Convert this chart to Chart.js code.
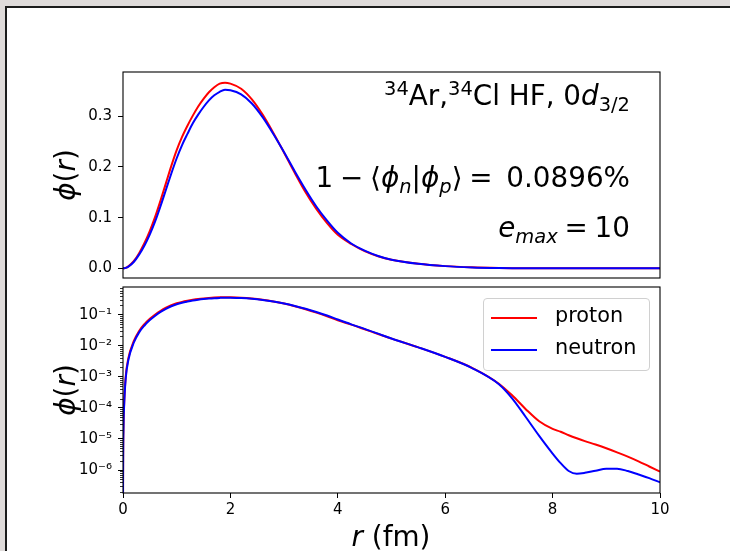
<!DOCTYPE html>
<html lang="en">
<head>
  <meta charset="UTF-8" />
  <title>Ar34 / Cl34 HF 0d3/2 radial wavefunctions</title>
  <script src="https://cdn.jsdelivr.net/npm/chart.js"></script>
  <style>
    html, body {
      margin: 0;
      width: 730px;
      height: 551px;
      overflow: hidden;
      background: #dfdbda;
      font-family: "DejaVu Sans", sans-serif;
    }

    .frame {
      position: absolute;
      left: 5px;
      top: 6px;
      width: 740px;
      height: 560px;
      background: #fff;
      border-left: 2px solid #1c1c1c;
      border-top: 2px solid #1c1c1c;
    }

    canvas {
      position: absolute;
      left: 0;
    }

    .note {
      position: absolute;
      right: 100px;
      font-size: 27.8px;
      line-height: 1;
      white-space: nowrap;
      color: #000;
    }
    .tight { word-spacing: -2px; }

    .note sup, .note sub {
      font-size: 70%;
      line-height: 0;
      vertical-align: 0;
      position: relative;
    }
    .note sup { top: -0.5em; }
    .note sub { top: 0.3em; }

    .axis-label {
      position: absolute;
      font-size: 27.8px;
      line-height: 1;
      white-space: nowrap;
      color: #000;
    }
    .ylab { transform: translate(-50%, -50%) rotate(-90deg); }
    .xlab { transform: translate(-50%, -50%); }

    .legend {
      position: absolute;
      left: 483px;
      top: 298px;
      width: 165px;
      height: 71px;
      border: 1px solid #d0d0d0;
      border-radius: 4px;
      background: rgba(255,255,255,0.8);
    }
    .legend .row {
      position: absolute;
      left: 7px;
      height: 0;
    }
    .legend .swatch {
      position: absolute;
      left: 0;
      top: -1px;
      width: 46px;
      height: 2px;
    }
    .legend .txt {
      position: absolute;
      left: 64px;
      top: -13px;
      font-size: 20.8px;
      line-height: 1;
      white-space: nowrap;
    }
  </style>
</head>
<body>
  <div class="frame"></div>
  <canvas id="topChart" width="730" height="282" style="top:0"></canvas>
  <canvas id="logChart" width="730" height="271" style="top:280px"></canvas>

  <div class="note" style="top:82px"><sup>34</sup>Ar,<sup>34</sup>Cl HF, 0<i>d</i><sub>3/2</sub></div>
  <div class="note tight" style="top:164px">1 − ⟨<i>ϕ</i><sub><i>n</i></sub>|<i>ϕ</i><sub><i>p</i></sub>⟩ = &nbsp;0.0896%</div>
  <div class="note tight" style="top:214px"><i>e</i><sub><i>max</i></sub> = 10</div>

  <div class="axis-label ylab" style="left:66px; top:175px"><i>ϕ</i>(<i>r</i>)</div>
  <div class="axis-label ylab" style="left:66px; top:390px"><i>ϕ</i>(<i>r</i>)</div>
  <div class="axis-label xlab" style="left:391px; top:537px"><i>r</i> (fm)</div>

  <div class="legend">
    <div class="row" style="top:19px">
      <div class="swatch" style="background:#ff0000"></div>
      <div class="txt">proton</div>
    </div>
    <div class="row" style="top:51px">
      <div class="swatch" style="background:#0000ff"></div>
      <div class="txt">neutron</div>
    </div>
  </div>

  <script>
    // radius grid (fm)
    const R = [0, 0.0005, 0.001, 0.01, 0.02, 0.05, 0.1, 0.2, 0.3, 0.4, 0.5, 0.6, 0.7, 0.8, 0.9, 1.0,
      1.1, 1.2, 1.3, 1.4, 1.5, 1.6, 1.7, 1.8, 1.9, 2.0, 2.2, 2.4, 2.6, 2.8, 3.0, 3.2, 3.4, 3.6, 3.8, 4.0,
      4.25, 4.5, 4.75, 5.0, 5.5, 6.0, 6.5, 7.0, 7.25, 7.5, 7.75, 8.0, 8.15, 8.3, 8.45,
      8.6, 8.8, 9.0, 9.2, 9.4, 9.6, 9.8, 10.0];

    const PROTON = [0, 7e-8, 3e-7, 3e-5, 1.2e-4, 1.0e-3, 0.004, 0.014, 0.030, 0.050, 0.074, 0.102, 0.134, 0.168, 0.202, 0.233,
      0.259, 0.281, 0.301, 0.319, 0.334, 0.347, 0.357, 0.364, 0.366, 0.364, 0.354, 0.333, 0.303, 0.267, 0.228, 0.188, 0.150, 0.117, 0.089, 0.066,
      0.048, 0.034, 0.024, 0.017, 0.0089, 0.0044, 0.00195, 6.0e-4, 2.5e-4, 9.1e-5, 3.7e-5, 2.1e-5, 1.7e-5, 1.32e-5, 1.05e-5,
      8.5e-6, 6.6e-6, 5.0e-6, 3.7e-6, 2.7e-6, 1.9e-6, 1.3e-6, 8.9e-7];

    const NEUTRON = [0, 6e-8, 2.6e-7, 2.6e-5, 1.05e-4, 8.7e-4, 0.0035, 0.0125, 0.027, 0.045, 0.067, 0.093, 0.123, 0.155, 0.187, 0.217,
      0.243, 0.265, 0.286, 0.303, 0.318, 0.331, 0.341, 0.348, 0.352, 0.351, 0.343, 0.325, 0.298, 0.265, 0.229, 0.191, 0.155, 0.122, 0.094, 0.070,
      0.049, 0.035, 0.0245, 0.0171, 0.0089, 0.0044, 0.00192, 5.8e-4, 2.0e-4, 5.1e-5, 1.26e-5, 3.4e-6, 1.66e-6, 9.3e-7, 7.6e-7,
      8.1e-7, 9.5e-7, 1.10e-6, 1.10e-6, 9.3e-7, 7.2e-7, 5.5e-7, 4.0e-7];

    const X_TICKS = [0, 2, 4, 6, 8, 10];
    const TOP_TICKS = [0, 0.1, 0.2, 0.3];
    const LOG_TICKS = [1e-6, 1e-5, 1e-4, 1e-3, 1e-2, 1e-1];
    const LOG_TICK_LABELS = ['10⁻⁶', '10⁻⁵', '10⁻⁴', '10⁻³', '10⁻²', '10⁻¹'];

    const FONT = { family: 'DejaVu Sans', size: 15 };

    function pts(ys) {
      return R.map((r, i) => ({ x: r, y: ys[i] }));
    }

    function datasets() {
      return [
        { label: 'proton', data: pts(PROTON), borderColor: '#ff0000', borderWidth: 2,
          pointRadius: 0, cubicInterpolationMode: 'monotone', order: 2 },
        { label: 'neutron', data: pts(NEUTRON), borderColor: '#0000ff', borderWidth: 2,
          pointRadius: 0, cubicInterpolationMode: 'monotone', order: 1 }
      ];
    }

    // no extra room for half tick labels at the axis ends
    function fixWidth(s) {
      s.width = 123;
      s.paddingTop = 0;
      s.paddingBottom = 0;
    }
    function fixHeight(s) {
      s.height = 58;
      s.paddingLeft = 0;
      s.paddingRight = 0;
    }

    // axes box (matplotlib spines)
    const frame = {
      id: 'frame',
      afterDraw(chart) {
        const { ctx, chartArea: a } = chart;
        ctx.save();
        ctx.strokeStyle = '#000';
        ctx.lineWidth = 1.1;
        ctx.strokeRect(a.left, a.top, a.right - a.left, a.bottom - a.top);
        ctx.restore();
      }
    };

    // minor log ticks
    const minorTicks = {
      id: 'minorTicks',
      afterDraw(chart) {
        const y = chart.scales.y;
        const ctx = chart.ctx;
        ctx.save();
        ctx.strokeStyle = '#000';
        ctx.lineWidth = 0.8;
        for (let e = -8; e <= 0; e++) {
          for (let k = 2; k <= 9; k++) {
            const v = k * Math.pow(10, e);
            if (v < y.min || v > y.max) continue;
            const py = Math.round(y.getPixelForValue(v)) + 0.5;
            ctx.beginPath();
            ctx.moveTo(y.right - 3, py);
            ctx.lineTo(y.right, py);
            ctx.stroke();
          }
        }
        ctx.restore();
      }
    };

    const tickGrid = { display: true, drawOnChartArea: false, tickLength: 5, tickColor: '#000', tickWidth: 1 };

    new Chart(document.getElementById('topChart'), {
      type: 'line',
      data: { datasets: datasets() },
      options: {
        responsive: false,
        animation: false,
        devicePixelRatio: 1,
        layout: { padding: { left: 0, top: 72, right: 70, bottom: 4 } },
        plugins: { legend: { display: false }, tooltip: { enabled: false } },
        scales: {
          x: { type: 'linear', min: 0, max: 10, display: false },
          y: {
            type: 'linear', min: -0.019, max: 0.387,
            afterFit: fixWidth,
            afterBuildTicks(s) { s.ticks = TOP_TICKS.map(v => ({ value: v })); },
            ticks: { callback: v => v.toFixed(1), font: FONT, color: '#000', padding: 6, autoSkip: false },
            grid: tickGrid,
            border: { display: false }
          }
        }
      },
      plugins: [frame]
    });

    new Chart(document.getElementById('logChart'), {
      type: 'line',
      data: { datasets: datasets() },
      options: {
        responsive: false,
        animation: false,
        devicePixelRatio: 1,
        layout: { padding: { left: 0, top: 7, right: 70, bottom: 0 } },
        plugins: { legend: { display: false }, tooltip: { enabled: false } },
        scales: {
          x: {
            type: 'linear', min: 0, max: 10,
            afterFit: fixHeight,
            afterBuildTicks(s) { s.ticks = X_TICKS.map(v => ({ value: v })); },
            ticks: { callback: v => String(v), font: FONT, color: '#000', padding: 3, maxRotation: 0, autoSkip: false },
            grid: tickGrid,
            border: { display: false }
          },
          y: {
            type: 'logarithmic', min: 1.82e-7, max: 0.78,
            afterFit: fixWidth,
            afterBuildTicks(s) { s.ticks = LOG_TICKS.map(v => ({ value: v, major: true })); },
            ticks: { callback: (v, i) => LOG_TICK_LABELS[i], font: FONT, color: '#000', padding: 6, autoSkip: false },
            grid: tickGrid,
            border: { display: false }
          }
        }
      },
      plugins: [frame, minorTicks]
    });
  </script>
</body>
</html>
